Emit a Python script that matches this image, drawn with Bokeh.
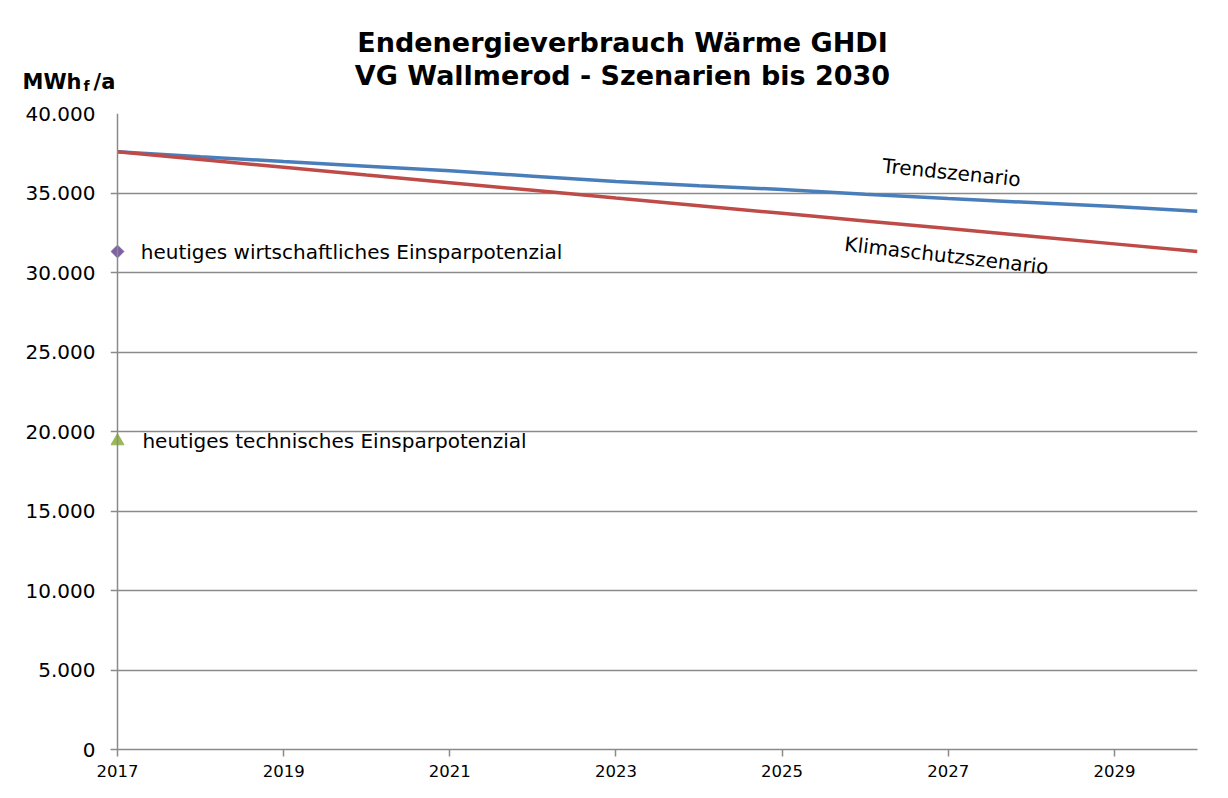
from bokeh.plotting import figure
from bokeh.layouts import column
from bokeh.models import Range1d, Label, FixedTicker, Span
from bokeh.core.properties import value
from bokeh.embed import file_html
from bokeh.resources import INLINE

years = [2017, 2018, 2019, 2020, 2021, 2022, 2023, 2024, 2025, 2026, 2027, 2028, 2029, 2030]
trend = [37600, 37280, 36980, 36690, 36400, 36060, 35720, 35460, 35220, 34920, 34650, 34400, 34150, 33850]
klima = [37600, 37100, 36620, 36130, 35650, 35170, 34680, 34200, 33720, 33240, 32760, 32280, 31800, 31320]
wirtschaftlich_year = [2017]
wirtschaftlich_val = [31320]
technisch_year = [2017]
technisch_val = [19400]
y_ticks = [0, 5000, 10000, 15000, 20000, 25000, 30000, 35000, 40000]
x_ticks = [2017, 2019, 2021, 2023, 2025, 2027, 2029]
title_lines = ["Endenergieverbrauch Wärme GHDI", "VG Wallmerod - Szenarien bis 2030"]
unit_parts = ["MWh", "f", "/a"]

FONT = "DejaVu Sans"
GRID = "#8a8a8a"
W = 1220
HEAD_H = 103

# ---------- header strip (title + unit) ----------
head = figure(width=W, height=HEAD_H, output_backend="svg", toolbar_location=None,
              x_range=Range1d(0, W), y_range=Range1d(HEAD_H, 0),
              min_border_left=0, min_border_right=0, min_border_top=0, min_border_bottom=0)
head.frame_align = False
head.axis.visible = False
head.grid.visible = False
head.outline_line_color = None
head.border_fill_color = "white"
head.background_fill_color = "white"
head.text(x=[622, 622], y=[42, 75], text=title_lines, text_font=value(FONT),
          text_font_size="27px", text_font_style="bold", text_align="center",
          text_baseline="middle", text_color="black")
head.text(x=[22, 93], y=[81, 81], text=[unit_parts[0], unit_parts[2]], text_font=value(FONT),
          text_font_size="21px", text_font_style="bold", text_align="left",
          text_baseline="alphabetic", text_color="black")
head.text(x=[83], y=[85], text=[unit_parts[1]], text_font=value(FONT),
          text_font_size="14px", text_font_style="bold", text_align="left",
          text_baseline="alphabetic", text_color="black")

# ---------- main chart ----------
p = figure(width=W, height=790 - HEAD_H, output_backend="svg", toolbar_location=None,
           x_range=Range1d(2016.9157, 2030), y_range=Range1d(0, 40000),
           min_border_left=110, min_border_right=23, min_border_top=10, min_border_bottom=41)
p.frame_align = False
p.outline_line_color = None
p.background_fill_color = "white"
p.border_fill_color = "white"

p.xaxis.ticker = FixedTicker(ticks=x_ticks)
p.yaxis.ticker = FixedTicker(ticks=y_ticks)
p.yaxis.major_label_overrides = {t: f"{t:,}".replace(",", ".") for t in y_ticks}
p.xaxis.major_label_overrides = {t: str(t) for t in x_ticks}
for ax in (p.xaxis, p.yaxis):
    ax.axis_line_color = GRID
    ax.axis_line_width = 1.5
    ax.major_tick_line_color = GRID
    ax.major_tick_line_width = 1.5
    ax.major_tick_in = 0
    ax.major_tick_out = 7
    ax.minor_tick_line_color = None
    ax.major_label_text_font = FONT
    ax.major_label_text_color = "black"
p.yaxis.axis_line_color = None
p.yaxis.major_tick_line_color = None
p.yaxis.major_tick_out = 0
p.yaxis.major_label_text_font_size = "20px"
p.yaxis.major_label_standoff = 15
p.xaxis.major_label_text_font_size = "16.5px"
p.xaxis.major_label_standoff = 8

p.xgrid.grid_line_color = None
p.ygrid.grid_line_color = GRID
p.ygrid.grid_line_width = 1.5

p.add_layout(Span(location=years[0], dimension="height", line_color=GRID, line_width=1.5))

p.line(years, trend, line_color="#4a7ebb", line_width=3.5)
p.line(years, klima, line_color="#be4b48", line_width=3.5)

p.scatter(wirtschaftlich_year, wirtschaftlich_val, marker="square", angle=0.7854, size=9,
          fill_color="#7d60a0", line_color="#7d60a0")
p.scatter(technisch_year, technisch_val, marker="triangle", size=13,
          fill_color="#98b954", line_color="#98b954")

def lab(x, y, text, size, align="left", angle=0):
    p.add_layout(Label(x=x, y=y, text=text, text_font=FONT, text_font_size=size,
                       text_align=align, text_baseline="middle", angle=angle,
                       text_color="black"))

lab(2017.28, wirtschaftlich_val[0], "heutiges wirtschaftliches Einsparpotenzial", "20px")
lab(2017.30, technisch_val[0], "heutiges technisches Einsparpotenzial", "20px")
lab(2027.04, 36290, "Trendszenario", "20px", align="center", angle=-0.10)
lab(2026.98, 31070, "Klimaschutzszenario", "20px", align="center", angle=-0.115)

layout = column(head, p, spacing=0)
open("out.html", "w").write(file_html(layout, INLINE))
